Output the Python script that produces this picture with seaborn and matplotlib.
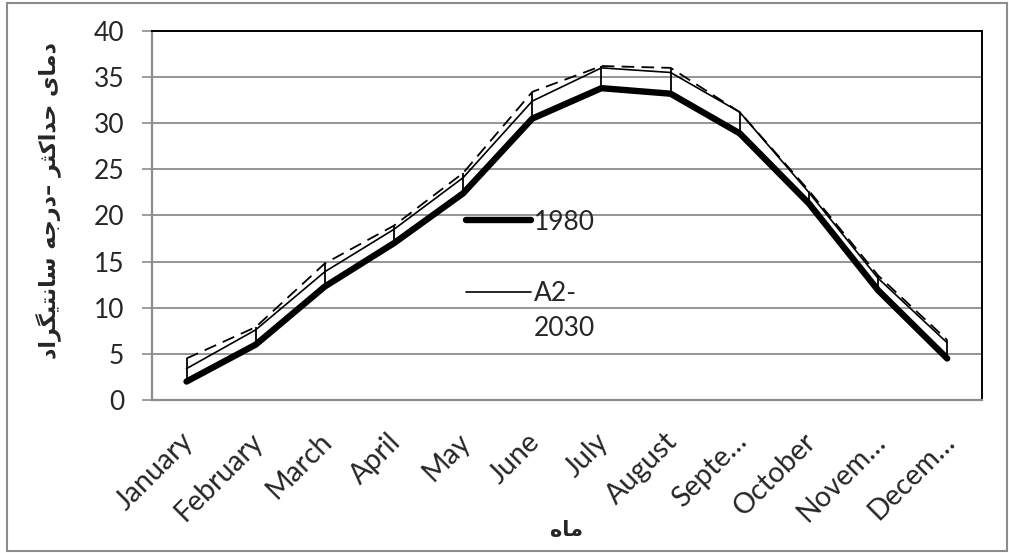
import numpy as np
import pandas as pd
import seaborn as sns
from matplotlib import pyplot as plt
from matplotlib.patches import Rectangle
from matplotlib.transforms import ScaledTranslation

months = ["January", "February", "March", "April", "May", "June", "July",
          "August", "Septe…", "October", "Novem…", "Decem…"]
t_1980 = [2.0, 6.0, 12.3, 17.0, 22.4, 30.5, 33.8, 33.2, 28.9, 21.3, 11.9, 4.5]
t_a2 = [3.4, 7.6, 13.9, 18.5, 24.1, 32.4, 36.0, 35.5, 31.2, 22.5, 13.2, 6.2]
t_b1 = [4.5, 7.9, 14.8, 18.9, 24.6, 33.4, 36.2, 36.0, 31.2, 22.7, 13.5, 6.5]

y_title = "دمای حداکثر –درجه سانتیگراد"
x_title = "ماه"

# matplotlib has no arabic shaping, so pick the presentation forms by hand
forms = {
    "ا": ("\ufe8d", "\ufe8e", None, None),
    "د": ("\ufea9", "\ufeaa", None, None),
    "ر": ("\ufead", "\ufeae", None, None),
    "م": ("\ufee1", "\ufee2", "\ufee3", "\ufee4"),
    "ی": ("\ufbfc", "\ufbfd", "\ufbfe", "\ufbff"),
    "ح": ("\ufea1", "\ufea2", "\ufea3", "\ufea4"),
    "ک": ("\ufb8e", "\ufb8f", "\ufb90", "\ufb91"),
    "ث": ("\ufe99", "\ufe9a", "\ufe9b", "\ufe9c"),
    "ج": ("\ufe9d", "\ufe9e", "\ufe9f", "\ufea0"),
    "ه": ("\ufee9", "\ufeea", "\ufeeb", "\ufeec"),
    "س": ("\ufeb1", "\ufeb2", "\ufeb3", "\ufeb4"),
    "ن": ("\ufee5", "\ufee6", "\ufee7", "\ufee8"),
    "ت": ("\ufe95", "\ufe96", "\ufe97", "\ufe98"),
    "گ": ("\ufb92", "\ufb93", "\ufb94", "\ufb95"),
}


def shape(text):
    out = []
    for i, c in enumerate(text):
        if c not in forms:
            out.append(c)
            continue
        prev = text[i - 1] if i > 0 else ""
        nxt = text[i + 1] if i + 1 < len(text) else ""
        iso, fin, ini, med = forms[c]
        jp = prev in forms and forms[prev][2] is not None
        jn = nxt in forms and ini is not None
        if jp and jn:
            out.append(med)
        elif jp:
            out.append(fin)
        elif jn:
            out.append(ini)
        else:
            out.append(iso)
    return "".join(reversed(out))


df = pd.DataFrame({"month": months, "1980": t_1980, "A2-2030": t_a2, "B1-2030": t_b1})
series = ["1980", "A2-2030", "B1-2030"]

sns.set_style("white")
plt.rcParams["font.family"] = ["Lato", "DejaVu Sans"]

fig = plt.figure(figsize=(10.09, 5.53), dpi=100)
ax = fig.add_axes([0.1506, 0.2767, 0.8224, 0.6673])

# high-low lines
ax.vlines(df["month"], df[series].min(axis=1), df[series].max(axis=1),
          color="black", lw=1.3, zorder=2)

sns.lineplot(data=df, x="month", y="B1-2030", sort=False, color="black", lw=1.3,
             ax=ax, zorder=3).lines[-1].set_dashes([7, 4])
sns.lineplot(data=df, x="month", y="A2-2030", sort=False, color="black", lw=1.2, ax=ax, zorder=3)
sns.lineplot(data=df, x="month", y="1980", sort=False, color="black", lw=4.6, ax=ax,
             zorder=4, solid_capstyle="round")

ax.set_xlim(-0.5, 11.5)
ax.set_ylim(0, 40)
ax.set_yticks(np.arange(0, 41, 5))
ax.yaxis.grid(True, color="#8c8c8c", lw=1.3)
ax.set_axisbelow(True)

for side in ["left", "bottom"]:
    ax.spines[side].set_color("#8c8c8c")
    ax.spines[side].set_linewidth(1.6)
for side in ["top", "right"]:
    ax.spines[side].set_color("black")
    ax.spines[side].set_linewidth(1.4)

ax.tick_params(axis="y", length=7, width=1.2, color="#8c8c8c", pad=13, labelsize=19, left=True)
ax.tick_params(axis="x", length=0, pad=4, labelsize=20.5)
plt.setp(ax.get_xticklabels(), rotation=45, ha="right", va="center", rotation_mode="anchor")
for lbl in ax.get_xticklabels():
    lbl.set_transform(lbl.get_transform() + ScaledTranslation(0.03, -0.32, fig.dpi_scale_trans))

ax.set_ylabel(shape(y_title), family="DejaVu Sans", fontweight="bold", fontsize=16)
ax.yaxis.set_label_coords(-0.11, 0.54)
ax.set_xlabel(shape(x_title), family="DejaVu Sans", fontweight="bold", fontsize=15)
ax.xaxis.set_label_coords(0.5, -0.325)

lines = ax.get_lines()
leg = ax.legend([lines[2], lines[1]], ["1980", "A2-\n2030"], loc="center left",
                bbox_to_anchor=(0.35, 0.338), frameon=False, fontsize=19,
                handlelength=2.45, handletextpad=0.1, labelspacing=1.75)
leg.get_texts()[1].set_linespacing(1.5)
# excel puts the line next to the first row of a wrapped label
h = leg.legend_handles[1]
h.set_ydata(np.asarray(h.get_ydata()) + 14)

fig.patches.append(Rectangle((0.007, 0.003), 0.991, 0.991, transform=fig.transFigure,
                             fill=False, edgecolor="#8c8c8c", lw=1.5))

fig.savefig("out.png", dpi=100)
